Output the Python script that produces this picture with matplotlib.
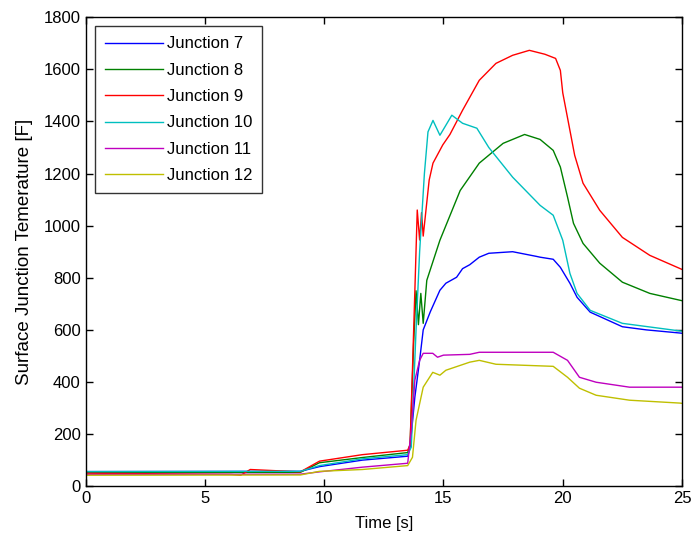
import matplotlib
matplotlib.use("Agg")
import matplotlib.pyplot as plt

plt.rcParams['font.family'] = ['Liberation Sans', 'DejaVu Sans']

labels = ["Junction 7", "Junction 8", "Junction 9", "Junction 10", "Junction 11", "Junction 12"]
colors = ["#0000ff", "#008000", "#ff0000", "#00bfbf", "#bf00bf", "#bfbf00"]

# Junction 7 (blue)
t7 = [0, 9.0, 9.8, 11.6, 13.5, 13.6, 13.8, 14.0, 14.15, 14.45, 14.85, 15.1, 15.55, 15.8, 16.1, 16.5, 16.9, 17.9, 18.9, 19.05, 19.6, 19.9, 20.3, 20.6, 21.15, 22.5, 23.5, 24.9, 25]
v7 = [56, 57, 75, 100, 115, 150, 342, 483, 600, 670, 752, 779, 802, 835, 850, 879, 894, 900, 882, 879, 871, 840, 779, 725, 668, 612, 600, 588, 587]

# Junction 8 (green)
t8 = [0, 9.0, 9.8, 11.6, 13.5, 13.6, 13.75, 13.85, 13.95, 14.05, 14.15, 14.3, 14.85, 15.7, 16.5, 17.5, 18.4, 19.05, 19.6, 19.9, 20.2, 20.45, 20.85, 21.55, 22.5, 23.65, 24.9, 25]
v8 = [52, 53, 90, 110, 129, 160, 550, 750, 620, 740, 625, 790, 944, 1135, 1240, 1316, 1350, 1331, 1289, 1225, 1110, 1009, 932, 856, 783, 740, 714, 712]

# Junction 9 (red)
t9 = [0, 6.1, 6.5, 6.9, 9.0, 9.8, 11.6, 13.5, 13.6, 13.7, 13.8, 13.9, 14.0, 14.08, 14.15, 14.4, 14.56, 14.97, 15.27, 15.8, 16.5, 17.2, 17.9, 18.6, 19.25, 19.7, 19.9, 20.0, 20.3, 20.5, 20.85, 21.55, 22.5, 23.65, 24.9, 25]
v9 = [50, 45, 42, 64, 55, 96, 121, 138, 160, 450, 750, 1060, 945, 1050, 960, 1175, 1240, 1310, 1350, 1443, 1558, 1623, 1654, 1673, 1658, 1642, 1596, 1510, 1366, 1270, 1163, 1059, 955, 886, 836, 832]

# Junction 10 (cyan)
t10 = [0, 9.0, 9.8, 11.6, 13.5, 13.65, 13.85, 14.0, 14.2, 14.35, 14.56, 14.85, 15.0, 15.35, 15.8, 16.4, 16.9, 17.9, 19.05, 19.6, 20.0, 20.3, 20.6, 21.15, 22.5, 24.9, 25]
v10 = [56, 57, 79, 105, 121, 150, 600, 900, 1200, 1360, 1404, 1347, 1370, 1424, 1393, 1374, 1300, 1186, 1078, 1040, 944, 817, 740, 675, 625, 596, 595]

# Junction 11 (magenta)
t11 = [0, 9.0, 9.8, 11.6, 13.5, 13.65, 13.8, 14.0, 14.15, 14.55, 14.75, 15.0, 16.1, 16.5, 19.6, 20.2, 20.7, 21.4, 22.8, 24.9, 25]
v11 = [45, 46, 55, 73, 88, 215, 407, 483, 510, 510, 495, 503, 506, 514, 514, 483, 418, 399, 380, 380, 380]

# Junction 12 (yellow)
t12 = [0, 9.0, 9.8, 11.6, 13.5, 13.7, 13.85, 14.15, 14.55, 14.85, 15.1, 16.1, 16.5, 17.2, 19.6, 20.2, 20.7, 21.4, 22.8, 24.9, 25]
v12 = [42, 43, 57, 64, 79, 111, 253, 380, 437, 426, 445, 476, 483, 468, 460, 418, 376, 349, 330, 319, 318]

series = [(t7, v7), (t8, v8), (t9, v9), (t10, v10), (t11, v11), (t12, v12)]

fig = plt.figure(figsize=(6.91, 5.39), dpi=100)
ax = fig.add_axes([0.124, 0.098, 0.863, 0.870])
for (t, v), c, lab in zip(series, colors, labels):
    ax.plot(t, v, color=c, lw=1.0, label=lab)

ax.set_xlim(0, 25)
ax.set_ylim(0, 1800)
ax.set_xticks([0, 5, 10, 15, 20, 25])
ax.set_yticks(range(0, 1801, 200))
ax.tick_params(direction='in', top=True, right=True, labelsize=12, length=5, width=1)
for s in ax.spines.values():
    s.set_linewidth(1.0)
ax.set_xlabel("Time [s]", fontsize=12, labelpad=7)
ax.set_ylabel("Surface Junction Temerature [F]", fontsize=13.5, labelpad=8)

leg = ax.legend(loc='upper left', fontsize=12, handlelength=3.5, frameon=True, fancybox=False,
                edgecolor='black', borderaxespad=0.55, labelspacing=0.68, handletextpad=0.2,
                borderpad=0.6)
leg.get_frame().set_linewidth(1.0)

fig.savefig("out.png", dpi=100)
